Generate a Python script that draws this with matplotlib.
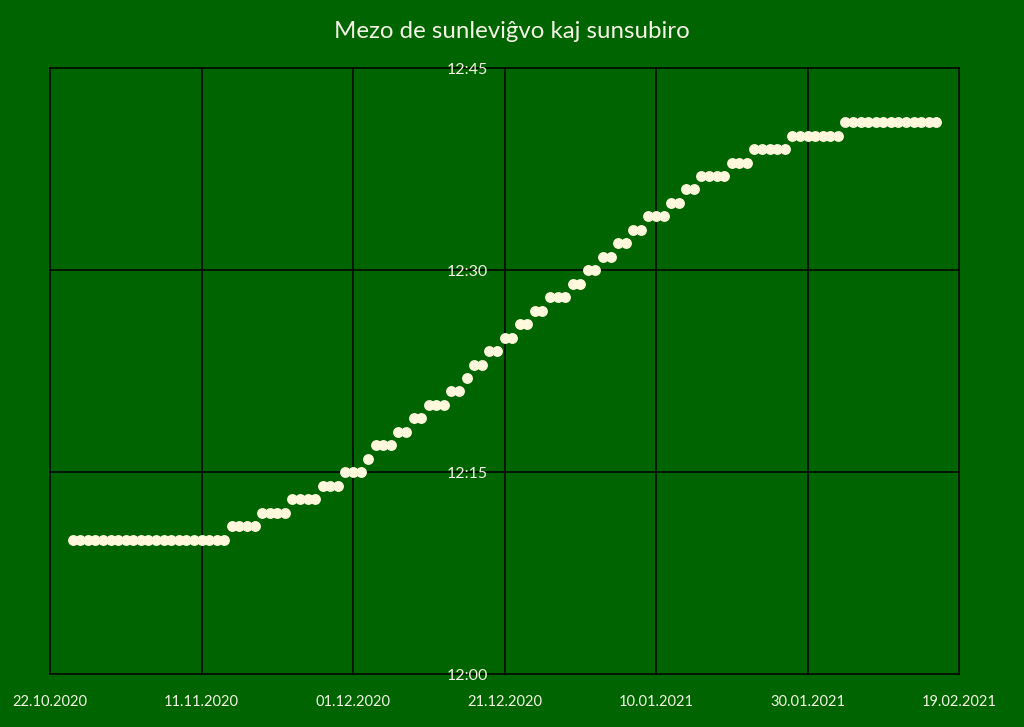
import numpy as np
import pandas as pd
import matplotlib
matplotlib.use("Agg")
import matplotlib.pyplot as plt
import matplotlib.dates as mdates

# midpoint between sunrise and sunset, minutes after 12:00, one value per day from 25.10.2020
start_date = "2020-10-25"
noon_minutes = [
    10, 10, 10, 10, 10, 10, 10, 10, 10, 10, 10, 10, 10, 10, 10, 10, 10, 10, 10, 10, 10,
    11, 11, 11, 11,
    12, 12, 12, 12,
    13, 13, 13, 13,
    14, 14, 14,
    15, 15, 15,
    16,
    17, 17, 17,
    18, 18,
    19, 19,
    20, 20, 20,
    21, 21,
    22,
    23, 23,
    24, 24,
    25, 25,
    26, 26,
    27, 27,
    28, 28, 28,
    29, 29,
    30, 30,
    31, 31,
    32, 32,
    33, 33,
    34, 34, 34,
    35, 35,
    36, 36,
    37, 37, 37, 37,
    38, 38, 38,
    39, 39, 39, 39, 39,
    40, 40, 40, 40, 40, 40, 40,
    41, 41, 41, 41, 41, 41, 41, 41, 41, 41, 41, 41, 41,
]
dates = pd.date_range(start_date, periods=len(noon_minutes), freq="D")

x_start = "2020-10-22"
x_end = "2021-02-19"
x_ticks = pd.date_range(x_start, x_end, freq="20D")
y_ticks = [0, 15, 30, 45]
y_labels = ["12:00", "12:15", "12:30", "12:45"]
y_axis_date = "2020-12-21"

title = "Mezo de sunleviĝvo kaj sunsubiro"

bg = "#006400"
fg = "#f4f4e6"
dot = "#fff8dc"

plt.rcParams["font.family"] = ["Lato", "DejaVu Sans"]

fig = plt.figure(figsize=(10.24, 7.27), dpi=100, facecolor=bg)
ax = fig.add_axes([50 / 1024, 1 - 674.3 / 727, 909 / 1024, 606 / 727])
ax.set_facecolor(bg)

ax.plot(dates, noon_minutes, linestyle="none", marker="o", markersize=6.8,
        markerfacecolor=dot, markeredgecolor=dot, zorder=3)

ax.set_xlim(pd.Timestamp(x_start), pd.Timestamp(x_end))
ax.set_ylim(0, 45)
ax.set_xticks(x_ticks)
ax.xaxis.set_major_formatter(mdates.DateFormatter("%d.%m.%Y"))
ax.set_yticks(y_ticks)
ax.set_yticklabels(y_labels)

# vertical axis crosses at 21.12.2020, like the original
ax.spines["left"].set_position(("data", mdates.date2num(pd.Timestamp(y_axis_date))))
for s in ax.spines.values():
    s.set_visible(False)

ax.grid(True, color="black", linewidth=1.1)
for gl in ax.get_xgridlines() + ax.get_ygridlines():
    gl.set_clip_on(False)
ax.set_axisbelow(True)

ax.tick_params(axis="both", length=0, colors=fg, labelsize=10.5)
ax.tick_params(axis="y", labelsize=11.5, pad=12)
ax.tick_params(axis="x", pad=15)

fig.text(0.5, 1 - 32 / 727, title, ha="center", va="center", color=fg, fontsize=17.3)

fig.savefig("out.png", dpi=100, facecolor=bg)
